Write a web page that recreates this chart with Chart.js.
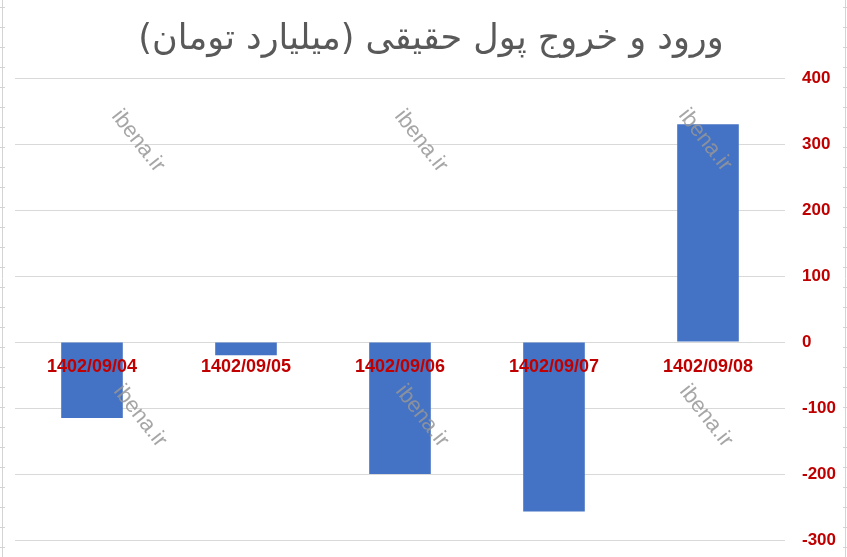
<!DOCTYPE html>
<html lang="fa">
<head>
    <meta charset="UTF-8">
    <title>ورود و خروج پول حقیقی</title>
    <script src="https://cdn.jsdelivr.net/npm/chart.js"></script>
    <style>
        html, body { margin: 0; padding: 0; background: #fff; }
        #wrap { width: 847px; height: 557px; }
    </style>
</head>
<body>
    <div id="wrap"><canvas id="flow-chart" width="847" height="557"></canvas></div>

    <script>
        // data
        const dates = ['1402/09/04', '1402/09/05', '1402/09/06', '1402/09/07', '1402/09/08'];
        const netFlow = [-115, -20, -200, -257, 330];
        const yTicks = [-300, -200, -100, 0, 100, 200, 300, 400];

        const labelRed = '#C00000';

        // the ibena.ir watermark and the sheet edge lines
        const decoration = {
            id: 'decoration',
            beforeDraw(chart) {
                const ctx = chart.ctx;
                ctx.save();
                ctx.strokeStyle = '#d4d4d4';
                ctx.lineWidth = 1;
                ctx.beginPath();
                ctx.moveTo(2.5, 0); ctx.lineTo(2.5, 557);
                ctx.moveTo(845.5, 0); ctx.lineTo(845.5, 557);
                for (let y = 7; y < 557; y += 20) {
                    ctx.moveTo(0, y + 0.5); ctx.lineTo(5, y + 0.5);
                    ctx.moveTo(843, y + 0.5); ctx.lineTo(847, y + 0.5);
                }
                ctx.stroke();
                ctx.restore();
            },
            afterDraw(chart) {
                const ctx = chart.ctx;
                const spots = [[138, 141], [421, 141], [705, 140], [140, 416], [422, 416], [706, 416]];
                ctx.save();
                ctx.fillStyle = 'rgba(150,150,150,0.85)';
                ctx.font = '22px "Liberation Sans", Arial, sans-serif';
                ctx.textAlign = 'center';
                ctx.textBaseline = 'middle';
                spots.forEach(([x, y]) => {
                    ctx.save();
                    ctx.translate(x, y);
                    ctx.rotate(52 * Math.PI / 180);
                    ctx.fillText('ibena.ir', 0, 0);
                    ctx.restore();
                });
                ctx.restore();
            }
        };

        const ctx = document.getElementById('flow-chart').getContext('2d');
        new Chart(ctx, {
            type: 'bar',
            data: {
                labels: dates,
                datasets: [{
                    data: netFlow,
                    backgroundColor: '#4472C4',
                    borderWidth: 0,
                    barPercentage: 0.4,
                    categoryPercentage: 1
                }]
            },
            options: {
                responsive: false,
                animation: false,
                layout: { padding: { left: 15, right: 0, top: 0, bottom: 17 } },
                plugins: {
                    legend: { display: false },
                    tooltip: { enabled: false },
                    title: {
                        display: true,
                        text: 'ورود و خروج پول حقیقی (میلیارد تومان)',
                        color: '#595959',
                        font: { family: '"DejaVu Sans", sans-serif', size: 35, weight: 'normal' },
                        padding: { top: 19, bottom: 17 }
                    }
                },
                scales: {
                    x: {
                        position: { y: 0 },
                        grid: { display: false },
                        border: { display: false },
                        ticks: {
                            z: 1,
                            color: labelRed,
                            padding: 6,
                            maxRotation: 0,
                            font: { family: '"Liberation Sans", Arial, sans-serif', size: 18, weight: 'bold' }
                        }
                    },
                    y: {
                        position: 'right',
                        min: -300,
                        max: 400,
                        afterBuildTicks(scale) {
                            scale.ticks = yTicks.map(v => ({ value: v }));
                        },
                        afterFit(scale) { scale.width = 62; },
                        grid: { color: '#d9d9d9', drawTicks: true, tickLength: 17, tickColor: 'rgba(0,0,0,0)' },
                        border: { display: false },
                        ticks: {
                            color: labelRed,
                            padding: 0,
                            font: { family: '"Liberation Sans", Arial, sans-serif', size: 17, weight: 'bold' }
                        }
                    }
                }
            },
            plugins: [decoration]
        });
    </script>
</body>
</html>
